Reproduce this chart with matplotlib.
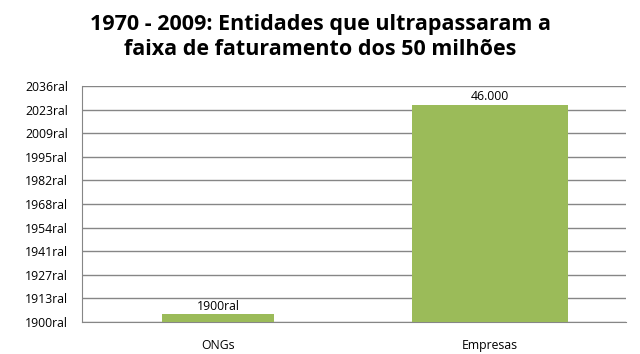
import numpy as np
import matplotlib.pyplot as plt

categories = ['ONGs', 'Empresas']
values = [1700, 46000]
value_labels = ['1900ral', '46.000']
tick_values = np.arange(0, 50001, 5000)
tick_labels = ['1900ral', '1913ral', '1927ral', '1941ral', '1954ral', '1968ral',
               '1982ral', '1995ral', '2009ral', '2023ral', '2036ral']
title = '1970 - 2009: Entidades que ultrapassaram a\nfaixa de faturamento dos 50 milhões'

plt.rcParams['font.family'] = ['Open Sans', 'DejaVu Sans']

fig = plt.figure(figsize=(6.4, 3.54), dpi=100)
ax = fig.add_axes([82 / 640, 1 - 322 / 354, 544 / 640, 236 / 354])

x = np.arange(len(categories))
bars = ax.bar(x, values, width=[0.415, 0.57], color='#9BBB59', zorder=3)

ax.set_xlim(-0.5, 1.5)
ax.set_ylim(0, 50000)
ax.set_yticks(tick_values)
ax.set_yticklabels(tick_labels, fontsize=8.8)
ax.set_xticks(x)
ax.set_xticklabels(categories, fontsize=8.8)

ax.grid(axis='y', color='#868686', linewidth=1, zorder=0)
for side in ['top', 'right']:
    ax.spines[side].set_visible(False)
for side in ['left', 'bottom']:
    ax.spines[side].set_color('#868686')
ax.tick_params(axis='y', length=0, pad=10)
ax.tick_params(axis='x', length=0, pad=12)

for b, lab in zip(bars, value_labels):
    ax.annotate(lab, (b.get_x() + b.get_width() / 2, b.get_height()),
                xytext=(0, 1), textcoords='offset points',
                ha='center', va='bottom', fontsize=8.8)

fig.text(0.5, 1 - 37 / 354, title, ha='center', va='center',
         fontsize=15.5, fontweight='bold', linespacing=1.3)

fig.savefig('out.png', dpi=100)
